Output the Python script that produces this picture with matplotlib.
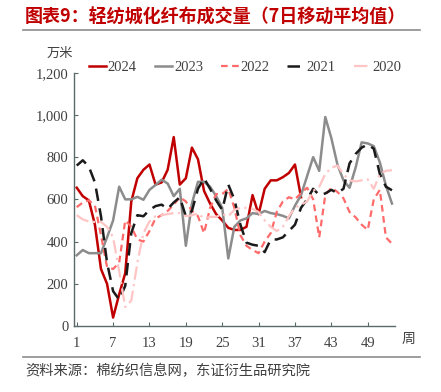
import numpy as np
import matplotlib
matplotlib.use("Agg")
import matplotlib.pyplot as plt
from matplotlib.lines import Line2D

weeks = list(range(1, 54))

s2024 = [655, 615, 595, 480, 270, 200, 40, 150, 250, 590, 700, 740, 765, 670, 680, 740, 895, 670,
         700, 845, 790, 640, 580, 530, 500, 465, 455, 455, 470, 620, 530, 650, 690, 690, 705, 725,
         765, 610] + [np.nan] * 15
s2023 = [335, 360, 345, 345, 345, 420, 500, 660, 600, 600, 612, 598, 645, 668, 693, 675, 615, 650,
         380, 580, 683, 683, 660, 615, 560, 320, 470, 500, 510, 535, 530, 545, 535, 530, 522, 510,
         570, 620, 710, 800, 735, 990, 890, 765, 690, 655, 750, 870, 865, 852, 775, 665, 580]
s2022 = [563, 585, 595, 570, 430, 280, 270, 300, 500, 470, 410, 400, 450, 510, 525, 545, 575, 610,
         590, 545, 520, 440, 560, 625, 625, 650, 560, 430, 380, 360, 345, 400, 440, 540, 590, 610,
         600, 630, 655, 600, 420, 620, 655, 635, 605, 540, 515, 480, 455, 600, 645, 420, 390]
s2021 = [760, 785, 755, 680, 520, 300, 165, 125, 190, 440, 525, 520, 550, 568, 575, 555, 585, 610,
         520, 545, 650, 700, 650, 595, 550, 670, 600, 480, 395, 385, 380, 350, 410, 410, 420, 450,
         480, 560, 600, 650, 620, 628, 645, 630, 650, 770, 815, 845, 860, 840, 720, 660, 643]
s2020 = [525, 505, 495, 493, 493, 470, 420, 260, 90, 120, 300, 440, 495, 520, 525, 530, 535, 535,
         520, 525, 533, 510, 517, 517, 530, 520, 550, 560, 560, 555, 540, 500, 470, 450, 470, 520,
         560, 575, 590, 640, 660, 720, 750, 760, 720, 690, 685, 690, 695, 650, 720, 735, 738]

series_names = ["2024", "2023", "2022", "2021", "2020"]
xticks = [1, 7, 13, 19, 25, 31, 37, 43, 49]
yticks = [0, 200, 400, 600, 800, 1000, 1200]

plt.rcParams['font.family'] = ['Liberation Serif', 'Noto Sans CJK SC', 'DejaVu Sans']

fig = plt.figure(figsize=(4.41, 3.92), dpi=100)
ax = fig.add_axes([74/441, 1-326/392, (395-74)/441, (326-72.7)/392])

styles = [
    dict(color="#C00000", lw=1.8, ls="-"),
    dict(color="#8C8C8C", lw=1.8, ls="-"),
    dict(color="#FF6B6B", lw=1.6, ls=(0, (3, 2))),
    dict(color="#1A1A1A", lw=1.8, ls=(0, (5, 3))),
    dict(color="#FFC4C4", lw=1.6, ls=(0, (6, 2, 1, 2))),
]
data = [s2024, s2023, s2022, s2021, s2020]
for name, vals, st in zip(series_names, data, styles):
    ax.plot(weeks, vals, label=name, **st)

ax.set_xlim(0.55, 53.5)
ax.set_ylim(0, 1200)
ax.set_xticks(xticks)
ax.set_yticks(yticks)
ax.set_yticklabels([f"{v:,}" for v in yticks])
ax.tick_params(axis='both', direction='in', length=3, colors="#5A6A6A", labelcolor="#404040",
               labelsize=10.5, pad=4)
ax.tick_params(axis='x', pad=8)
for sp in ["top", "right"]:
    ax.spines[sp].set_visible(False)
for sp in ["left", "bottom"]:
    ax.spines[sp].set_color("#5A6A6A")
    ax.spines[sp].set_linewidth(1.0)

leg = ax.legend(loc="upper left", bbox_to_anchor=(0.005, 1.10), ncol=5, frameon=False,
                fontsize=10.5, handlelength=1.2, handletextpad=0.1, columnspacing=1.25,
                labelcolor="#404040")

# title and decorations
fig.text(25/441, 1-17/392, "图表9：轻纺城化纤布成交量（7日移动平均值）", color="#C00000",
         fontsize=13, fontweight="bold", family=["Noto Sans CJK SC", "DejaVu Sans"],
         va="center", ha="left")
fig.add_artist(Line2D([23/441, 420/441], [1-30/392, 1-30/392], color="#8C8C8C", lw=1.2))
fig.add_artist(Line2D([23/441, 420/441], [1-357/392, 1-357/392], color="#8C8C8C", lw=1.2))
fig.text(47/441, 1-53/392, "万米", color="#404040", fontsize=9.5,
         family=["Noto Sans CJK SC", "DejaVu Sans"], va="center", ha="left")
fig.text(402/441, 1-339/392, "周", color="#404040", fontsize=10,
         family=["Noto Sans CJK SC", "DejaVu Sans"], va="center", ha="left")
fig.text(25/441, 1-371/392, "资料来源：棉纺织信息网，东证衍生品研究院", color="#404040",
         fontsize=10.3, family=["Noto Sans CJK SC", "DejaVu Sans"], va="center", ha="left")

fig.savefig("out.png", dpi=100)
